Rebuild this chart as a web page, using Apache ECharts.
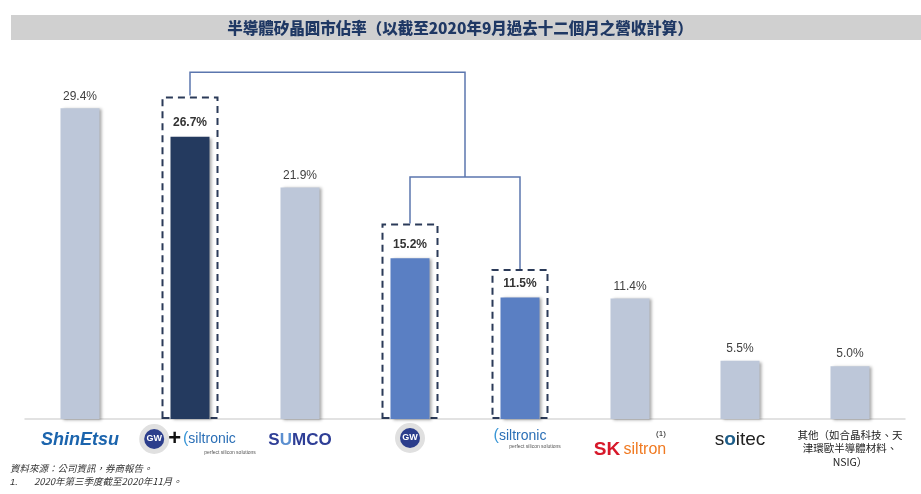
<!DOCTYPE html>
<html>
<head>
<meta charset="utf-8">
<script src="https://cdn.jsdelivr.net/npm/echarts@6/dist/echarts.min.js"></script>
<style>
html,body{margin:0;padding:0;background:#fff;}
#chart{width:921px;height:494px;}
</style>
</head>
<body>
<div id="chart"></div>
<script>
// ---- data ----
const titleText = '半導體矽晶圓市佔率（以截至2020年9月過去十二個月之營收計算）';
const categories = ['Shin-Etsu', 'GlobalWafers + Siltronic', 'SUMCO', 'GlobalWafers', 'Siltronic', 'SK Siltron', 'Soitec', '其他'];
const shares = [29.4, 26.7, 21.9, 15.2, 11.5, 11.4, 5.5, 5.0];
const highlightKind = ['base', 'combined', 'base', 'part', 'part', 'base', 'base', 'base'];
const boxTops = ['-', 30.5, '-', 18.5, 14.2, '-', '-', '-'];
const connectorSplit = [[4, 14.2], [4, 22.9], [3, 22.9], [3, 18.5]];
const connectorMerge = [[3.5, 22.9], [3.5, 32.8], [1, 32.8], [1, 30.6]];
const othersLabel = '其他（如合晶科技、天\n津環歐半導體材料、\nNSIG）';
const sourceNote = '資料來源：公司資訊，券商報告。';
const footNote1 = '2020年第三季度截至2020年11月。';

const colors = { base: '#bdc7d9', combined: '#243a5f', part: '#5a7fc3' };

const chart = echarts.init(document.getElementById('chart'));

const rich = {
  shin: { fontFamily: 'Liberation Sans', fontWeight: 'bold', fontStyle: 'italic', fontSize: 18, color: '#1b64ad', lineHeight: 24 },
  gw: { fontFamily: 'Liberation Sans', fontWeight: 'bold', fontSize: 9, color: '#fff', backgroundColor: '#2c3e8c',
        width: 20, height: 20, lineHeight: 20, align: 'center', borderRadius: 16, borderColor: '#e0e0e0', borderWidth: 5 },
  plus: { fontFamily: 'Liberation Sans', fontWeight: 'bold', fontSize: 22, color: '#111', padding: [0, 2, 0, 4] },
  arc: { fontFamily: 'Liberation Sans', fontSize: 16, color: '#3a96d6' },
  sil: { fontFamily: 'Liberation Sans', fontSize: 14, color: '#2b6fb6' },
  tagR: { fontFamily: 'Liberation Sans', fontSize: 5, color: '#555', lineHeight: 6, padding: [0, 0, 0, 80] },
  tagS: { fontFamily: 'Liberation Sans', fontSize: 5, color: '#555', lineHeight: 6, padding: [0, 0, 0, 30] },
  sum: { fontFamily: 'Liberation Sans', fontWeight: 'bold', fontSize: 17, color: '#2e3e96', lineHeight: 24 },
  sumU: { fontFamily: 'Liberation Sans', fontWeight: 'bold', fontSize: 17, color: '#5b8fd0', lineHeight: 24 },
  sup: { fontFamily: 'Liberation Sans', fontSize: 8, color: '#111', lineHeight: 12, padding: [0, 0, 0, 62] },
  sk: { fontFamily: 'Liberation Sans', fontWeight: 'bold', fontSize: 19, color: '#d7182a', lineHeight: 20 },
  skl: { fontFamily: 'Liberation Sans', fontSize: 16, color: '#f07a22', lineHeight: 20 },
  soi: { fontFamily: 'Liberation Sans', fontSize: 19, color: '#222', lineHeight: 24 },
  soiO: { fontFamily: 'Liberation Sans', fontWeight: 'bold', fontSize: 19, color: '#1d5e8a', lineHeight: 24 },
  oth: { fontFamily: 'Noto Sans CJK TC', fontSize: 10.5, color: '#222', lineHeight: 13.5 }
};

function logoLabel(value, idx) {
  switch (idx) {
    case 0: return '{shin|ShinEtsu}';
    case 1: return '{gw|GW}{plus|+}{arc|(}{sil|siltronic}\n{tagR|perfect silicon solutions}';
    case 2: return '{sum|S}{sumU|U}{sum|MCO}';
    case 3: return '{gw|GW}';
    case 4: return '{arc|(}{sil|siltronic}\n{tagS|perfect silicon solutions}';
    case 5: return '{sup|(1)}\n{sk|SK} {skl|siltron}';
    case 6: return '{soi|s}{soiO|o}{soi|itec}';
    default: return othersLabel.split('\n').map(s => '{oth|' + s + '}').join('\n');
  }
}

const option = {
  animation: false,
  backgroundColor: '#ffffff',
  title: {
    text: titleText,
    left: 460, top: 18, padding: 0, textAlign: 'center',
    textStyle: { fontFamily: 'Noto Sans CJK TC', fontWeight: 900, fontSize: 15.5, color: '#1f3864', lineHeight: 20 }
  },
  graphic: [
    { type: 'rect', z: -10, shape: { x: 11, y: 15, width: 910, height: 25 }, style: { fill: '#d0d0d0' } },
    { type: 'text', left: 10, top: 464, style: { text: sourceNote, fontFamily: 'Noto Sans CJK TC', fontStyle: 'italic', fontSize: 9.5, fill: '#333' } },
    { type: 'text', left: 10, top: 477, style: { text: '1.', fontFamily: 'Liberation Sans', fontStyle: 'italic', fontSize: 9.5, fill: '#333' } },
    { type: 'text', left: 34, top: 477, style: { text: footNote1, fontFamily: 'Noto Sans CJK TC', fontStyle: 'italic', fontSize: 9.5, fill: '#333' } }
  ],
  grid: { left: 25, right: 16, top: 49, bottom: 75, containLabel: false },
  xAxis: [
    {
      type: 'category', data: categories,
      axisLine: { show: true, lineStyle: { color: '#d9d9d9', width: 1.5 } },
      axisTick: { show: false },
      axisLabel: { interval: 0, margin: 9, formatter: logoLabel, rich: rich }
    },
    { type: 'category', data: categories, show: false },
    { type: 'value', min: -0.5, max: 7.5, show: false }
  ],
  yAxis: { type: 'value', min: 0, max: 35, show: false },
  series: [
    {
      type: 'bar', xAxisIndex: 1, barWidth: 57, z: 3, silent: true,
      data: boxTops,
      itemStyle: { color: 'rgba(0,0,0,0)', borderColor: '#2b3a58', borderWidth: 2, borderType: [7, 5] }
    },
    {
      type: 'bar', xAxisIndex: 0, barWidth: 39, z: 4,
      data: shares.map((v, i) => ({
        value: v,
        itemStyle: { color: colors[highlightKind[i]] },
        label: highlightKind[i] === 'base'
          ? { fontWeight: 'normal', color: '#404040', distance: 6 }
          : { fontWeight: 'bold', color: '#333333', distance: 8 }
      })),
      itemStyle: { shadowColor: 'rgba(0,0,0,0.35)', shadowBlur: 3, shadowOffsetX: 2, shadowOffsetY: 1 },
      label: { show: true, position: 'top', fontFamily: 'Liberation Sans', fontSize: 12, formatter: p => p.value.toFixed(1) + '%' }
    },
    {
      type: 'lines', coordinateSystem: 'cartesian2d', xAxisIndex: 2, yAxisIndex: 0, polyline: true, z: 5,
      symbol: ['none', 'none'],
      lineStyle: { color: '#5b76ae', width: 1.5, opacity: 1 },
      data: [{ coords: connectorSplit }]
    },
    {
      type: 'lines', coordinateSystem: 'cartesian2d', xAxisIndex: 2, yAxisIndex: 0, polyline: true, z: 5,
      symbol: ['none', 'arrow'], symbolSize: 9,
      lineStyle: { color: '#5b76ae', width: 1.5, opacity: 1 },
      data: [{ coords: connectorMerge }]
    }
  ]
};
chart.setOption(option);
</script>
</body>
</html>
